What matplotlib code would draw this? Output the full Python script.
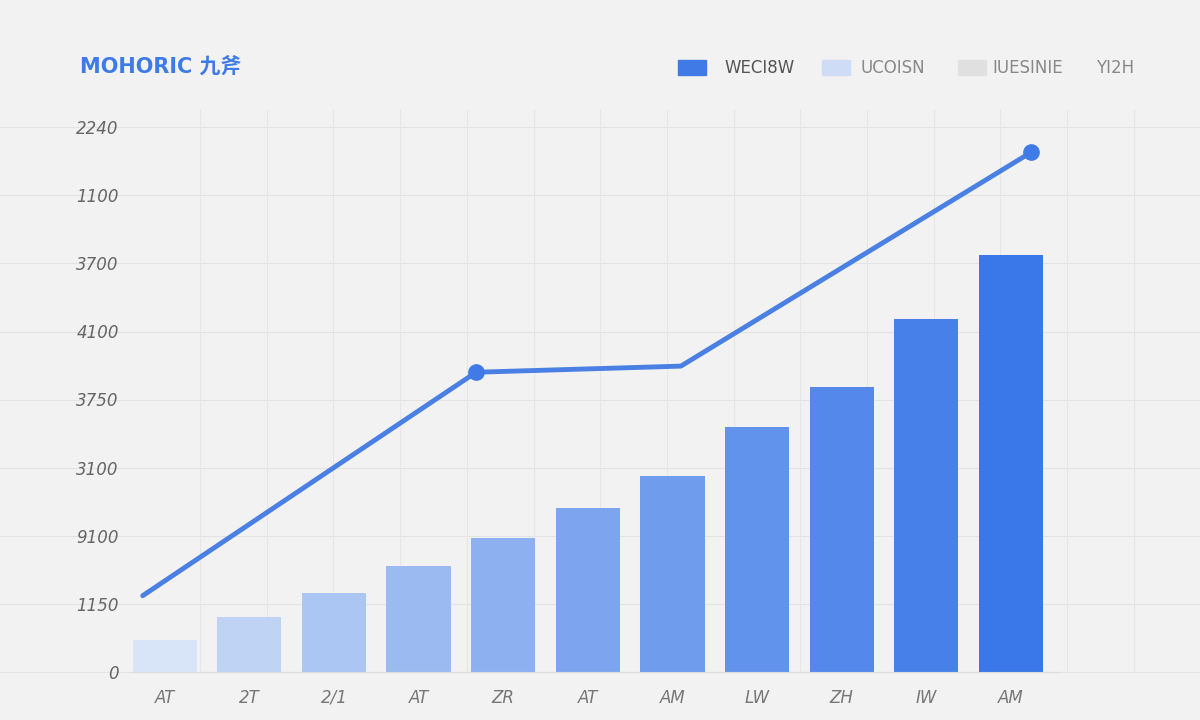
import matplotlib
matplotlib.use("Agg")
import matplotlib.pyplot as plt
from matplotlib.lines import Line2D
from matplotlib.patches import Rectangle
import numpy as np

categories = ["AT", "2T", "2/1", "AT", "ZR", "AT", "AM", "LW", "ZH", "IW", "AM"]
bar_values = [0.47, 0.81, 1.16, 1.56, 1.96, 2.41, 2.87, 3.60, 4.18, 5.18, 6.12]
line_x = [-0.26, 3.68, 6.10, 10.24]
line_y = [1.12, 4.40, 4.49, 7.63]
marker_idx = [1, 3]
ytick_labels = ["0", "1150", "9100", "3100", "3750", "4100", "3700", "1100", "2240"]
legend_labels = ["WECI8W", "UCOISN", "IUESINIE", "YI2H"]
title = "MOHORIC 九斧"

W, H = 1200, 720
fig = plt.figure(figsize=(12, 7.2), dpi=100)
fig.patch.set_facecolor("#f2f2f2")
plt.rcParams['font.family'] = ['DejaVu Sans', 'Noto Sans CJK SC']

# background grid in figure pixels
for k in range(9):
    y = 1 - (672 - 68.1 * k) / H
    fig.add_artist(Line2D([0, 1], [y, y], color="#e3e3e3", lw=0.8, zorder=0))
for xp in np.arange(200, 1150, 66.7):
    fig.add_artist(Line2D([xp / W, xp / W], [1 - 672 / H, 1 - 110 / H], color="#e6e6e6", lw=0.8, zorder=0))

ax = fig.add_axes([130 / W, 1 - 672 / H, 930 / W, 545 / H])
ax.set_facecolor("none")
n = len(categories)
x = np.arange(n)
c0 = np.array([0xd8, 0xe4, 0xf8]) / 255
c1 = np.array([0x3a, 0x77, 0xe8]) / 255
colors = [tuple(c0 + (c1 - c0) * (i / (n - 1)) ** 0.8) for i in range(n)]
ax.bar(x, bar_values, width=0.76, color=colors, zorder=2)
ax.plot(line_x, line_y, color="#4a80e4", lw=3.5, zorder=3, solid_capstyle="round")
ax.plot([line_x[i] for i in marker_idx], [line_y[i] for i in marker_idx], "o",
        color="#3f7ae6", ms=11, zorder=4)
ax.set_xlim(-0.41, 10.58)
ax.set_ylim(0, 8)
ax.set_yticks(range(9))
ax.set_yticklabels(ytick_labels, color="#666666", fontsize=12, style="italic")
ax.set_xticks(x)
ax.set_xticklabels(categories, color="#777777", fontsize=12, style="italic")
ax.tick_params(length=0, pad=12)
ax.tick_params(axis="y", pad=8)
for s in ["top", "right", "left"]:
    ax.spines[s].set_visible(False)
ax.spines["bottom"].set_color("#dddddd")

fig.text(80 / W, 1 - 67 / H, title, color="#3f7ae6", fontsize=15, fontweight="bold",
         va="center", family=['DejaVu Sans', 'Noto Sans CJK SC'])

leg_x = [678, 822, 958, None]
leg_tx = [724, 860, 992, 1096]
leg_c = ["#3f7ae6", "#cfdcf6", "#e0e0e0", None]
for lx, tx, c, lab in zip(leg_x, leg_tx, leg_c, legend_labels):
    if lx is not None:
        fig.add_artist(Rectangle((lx / W, 1 - 75 / H), 28 / W, 15 / H, color=c,
                                 transform=fig.transFigure))
    fig.text(tx / W, 1 - 68 / H, lab, fontsize=12, color="#555555" if c == "#3f7ae6" else "#888888",
             va="center")

fig.savefig("out.png", dpi=100, facecolor=fig.get_facecolor())
